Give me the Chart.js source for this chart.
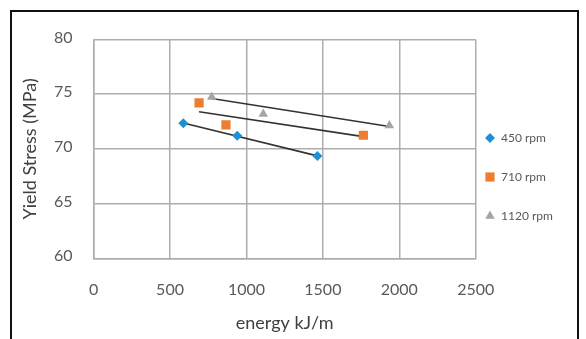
<!DOCTYPE html>
<html>
<head>
<meta charset="utf-8">
<script src="https://cdn.jsdelivr.net/npm/chart.js@4/dist/chart.umd.min.js"></script>
<style>
  html, body { margin: 0; padding: 0; background: #fff; }
  #wrap { position: relative; width: 586px; height: 339px; }
  #frame { position: absolute; left: 10px; top: 10px; width: 565px; height: 340px;
           border: 2.5px solid #111; border-bottom: none; pointer-events: none; }
</style>
</head>
<body>
<div id="wrap">
  <canvas id="myChart" width="586" height="339"></canvas>
  <div id="frame"></div>
</div>
<script>
// valors llegits de la figura
const seriesLabels = ['450 rpm', '710 rpm', '1120 rpm']
const energy450 = [587, 940, 1464]
const stress450 = [72.35, 71.2, 69.35]
const energy710 = [690, 866, 1765]
const stress710 = [74.2, 72.2, 71.25]
const energy1120 = [773, 1110, 1935]
const stress1120 = [74.75, 73.2, 72.15]

// línies de tendència (extrems llegits de la figura)
const trend450X = [587, 1464]
const trend450Y = [72.36, 69.36]
const trend710X = [690, 1765]
const trend710Y = [73.4, 71.12]
const trend1120X = [773, 1935]
const trend1120Y = [74.6, 72.05]

const xTicks = [0, 500, 1000, 1500, 2000, 2500]
const yTicks = [60, 65, 70, 75, 80]

const colors = ['#1f8fd6', '#ed7d31', '#a5a5a5']
const styles = ['rectRot', 'rect', 'triangle']
const radii = [5, 6.5, 5.5]

const toPoints = (xs, ys) => xs.map((x, i) => ({ x: x, y: ys[i] }))

const markerSets = [
  toPoints(energy450, stress450),
  toPoints(energy710, stress710),
  toPoints(energy1120, stress1120)
]
const trendSets = [
  toPoints(trend450X, trend450Y),
  toPoints(trend710X, trend710Y),
  toPoints(trend1120X, trend1120Y)
]

const datasets = []
markerSets.forEach((pts, i) => {
  datasets.push({
    label: seriesLabels[i],
    data: pts,
    showLine: false,
    pointStyle: styles[i],
    pointRadius: radii[i],
    pointBackgroundColor: colors[i],
    pointBorderColor: colors[i],
    pointBorderWidth: 0
  })
})
trendSets.forEach((pts) => {
  datasets.push({
    label: 'trend',
    data: pts,
    showLine: true,
    borderColor: '#333333',
    borderWidth: 1.6,
    pointRadius: 0
  })
})

// llegenda dibuixada a mà a la dreta
const sideLegend = {
  id: 'sideLegend',
  afterDraw(chart) {
    const ctx = chart.ctx
    const ys = [138, 177, 216]
    ctx.save()
    for (let i = 0; i < 3; i++) {
      ctx.fillStyle = colors[i]
      ctx.strokeStyle = colors[i]
      Chart.helpers.drawPoint(ctx, { pointStyle: styles[i], radius: radii[i], rotation: 0, borderWidth: 0 }, 490, ys[i])
      ctx.fillStyle = '#595959'
      ctx.font = '12px Lato'
      ctx.textBaseline = 'middle'
      ctx.textAlign = 'left'
      ctx.fillText(seriesLabels[i], 501, ys[i])
    }
    ctx.restore()
  }
}

const gridColor = '#adadad'

new Chart(document.getElementById('myChart'), {
  type: 'scatter',
  data: { datasets: datasets },
  plugins: [sideLegend],
  options: {
    responsive: false,
    animation: false,
    layout: { padding: { left: 0, right: 110.3, top: 39.5, bottom: 0 } },
    plugins: { legend: { display: false }, tooltip: { enabled: false } },
    scales: {
      x: {
        type: 'linear',
        min: 0,
        max: 2500,
        afterBuildTicks: (scale) => { scale.ticks = xTicks.map(v => ({ value: v })) },
        afterFit: (scale) => { scale.height = 80.7 },
        grid: { color: gridColor, lineWidth: 1.5, drawTicks: false },
        border: { color: gridColor, width: 1.5 },
        ticks: { color: '#595959', font: { family: 'Lato', size: 16 }, padding: 22,
                 callback: (v) => String(v) },
        title: { display: true, text: 'energy kJ/m', color: '#404040',
                 font: { family: 'Lato', size: 18 }, padding: { top: 0, bottom: 5 } }
      },
      y: {
        type: 'linear',
        min: 60,
        max: 80,
        afterBuildTicks: (scale) => { scale.ticks = yTicks.map(v => ({ value: v })) },
        afterFit: (scale) => { scale.width = 93.6 },
        grid: { color: gridColor, lineWidth: 1.5, drawTicks: false },
        border: { color: gridColor, width: 1.5 },
        ticks: { color: '#595959', font: { family: 'Lato', size: 16 }, padding: 21, labelOffset: -2,
                 callback: (v) => String(v) },
        title: { display: true, text: 'Yield Stress (MPa)', color: '#404040',
                 font: { family: 'Lato', size: 18 }, padding: { top: 19, bottom: 0 } }
      }
    }
  }
})
</script>
</body>
</html>
